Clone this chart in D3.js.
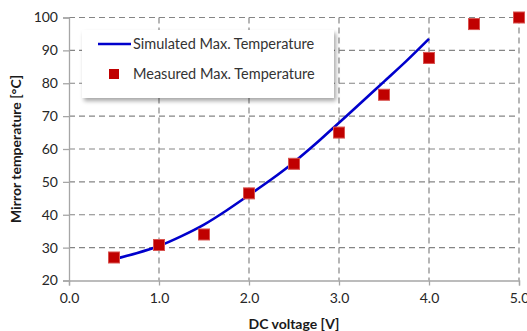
<!DOCTYPE html>
<html><head><meta charset="utf-8">
<script src="https://cdn.jsdelivr.net/npm/d3@7"></script>
<style>body{margin:0;background:#fff;}svg{display:block;font-family:Lato,"Open Sans",sans-serif;}</style>
</head><body><svg id="c" width="527" height="331"></svg>
<script>
const measuredX = [0.5,1.0,1.5,2.0,2.5,3.0,3.5,4.0,4.5,5.0];
const measuredY = [27,30.8,34,46.5,55.5,65,76.5,87.7,98,100];
const simX = [0.5,0.75,1.0,1.25,1.5,1.75,2.0,2.25,2.5,2.75,3.0,3.25,3.5,3.75,4.0];
const simY = [26.5,28.3,30.5,33.5,37,41.3,46,50.8,56,61.8,68,74.2,80.5,86.8,93.5];
const xTicks = [0,1,2,3,4,5];
const yTicks = [20,30,40,50,60,70,80,90,100];
const legendLabels = ["Simulated Max. Temperature","Measured Max. Temperature"];

const svg = d3.select("#c");
const x = d3.scaleLinear().domain([0,5]).range([69,519]);
const y = d3.scaleLinear().domain([20,100]).range([280.5,17.5]);

const defs = svg.append("defs");
const f = defs.append("filter").attr("id","sh").attr("x","-10%").attr("y","-20%").attr("width","130%").attr("height","160%");
f.append("feGaussianBlur").attr("in","SourceAlpha").attr("stdDeviation",2);
f.append("feOffset").attr("dx",2).attr("dy",3).attr("result","b");
f.append("feComponentTransfer").append("feFuncA").attr("type","linear").attr("slope",0.35);
const m = f.append("feMerge"); m.append("feMergeNode"); m.append("feMergeNode").attr("in","SourceGraphic");

// grid
const g = svg.append("g");
g.selectAll(".hg").data(yTicks.filter(d=>d>20)).join("line")
 .attr("x1",x(0)).attr("x2",x(5)).attr("y1",d=>y(d)).attr("y2",d=>y(d))
 .attr("stroke","#858585").attr("stroke-width",1.2).attr("stroke-dasharray","6,4");
g.selectAll(".vg").data(xTicks.filter(d=>d>0)).join("line")
 .attr("x1",d=>x(d)).attr("x2",d=>x(d)).attr("y1",y(100)).attr("y2",y(20))
 .attr("stroke","#858585").attr("stroke-width",1.2).attr("stroke-dasharray","6,4");

// axes
const ax = svg.append("g").attr("transform",`translate(0,${y(20)})`)
 .call(d3.axisBottom(x).tickValues(xTicks).tickFormat(d3.format(".1f")).tickSizeOuter(0).tickSize(5).tickPadding(8));
const ay = svg.append("g").attr("transform",`translate(${x(0)},0)`)
 .call(d3.axisLeft(y).tickValues(yTicks).tickSizeOuter(0).tickSize(6).tickPadding(5));
[ax,ay].forEach(a=>{
  a.select(".domain").attr("stroke","#a6a6a6").attr("stroke-width",1.3);
  a.selectAll(".tick line").attr("stroke","#a6a6a6").attr("stroke-width",1.3);
  a.selectAll("text").attr("fill","#262626").style("font-size","14px").style("font-family","Lato,'Open Sans',sans-serif");
});

// line
svg.append("path").datum(simX.map((d,i)=>[d,simY[i]]))
 .attr("d",d3.line().x(d=>x(d[0])).y(d=>y(d[1])).curve(d3.curveMonotoneX))
 .attr("fill","none").attr("stroke","#0000cc").attr("stroke-width",2.6);

// markers
const ms = 11;
svg.selectAll(".mk").data(measuredX.map((d,i)=>[d,measuredY[i]])).join("rect")
 .attr("x",d=>x(d[0])-ms/2).attr("y",d=>y(d[1])-ms/2).attr("width",ms).attr("height",ms)
 .attr("fill","#c00000").attr("stroke","#d9534f").attr("stroke-width",1);

// legend
const lg = svg.append("g");
lg.append("rect").attr("x",82).attr("y",30).attr("width",252).attr("height",68).attr("fill","#fff").attr("filter","url(#sh)");
lg.append("line").attr("x1",98).attr("x2",131).attr("y1",44).attr("y2",44).attr("stroke","#0000cc").attr("stroke-width",2.6);
lg.append("rect").attr("x",109).attr("y",69).attr("width",10).attr("height",10).attr("fill","#c00000");
lg.selectAll(".lt").data(legendLabels).join("text")
 .attr("x",133).attr("y",(d,i)=>49+i*30).attr("fill","#333").style("font-size","14.5px").text(d=>d);

// titles
svg.append("text").attr("x",294).attr("y",329).attr("text-anchor","middle").attr("font-weight","bold")
 .attr("fill","#1a1a1a").style("font-size","14px").text("DC voltage [V]");
svg.append("text").attr("transform","translate(21,149) rotate(-90)").attr("text-anchor","middle").attr("font-weight","bold")
 .attr("fill","#1a1a1a").style("font-size","14px").text("Mirror temperature [°C]");
</script></body></html>
